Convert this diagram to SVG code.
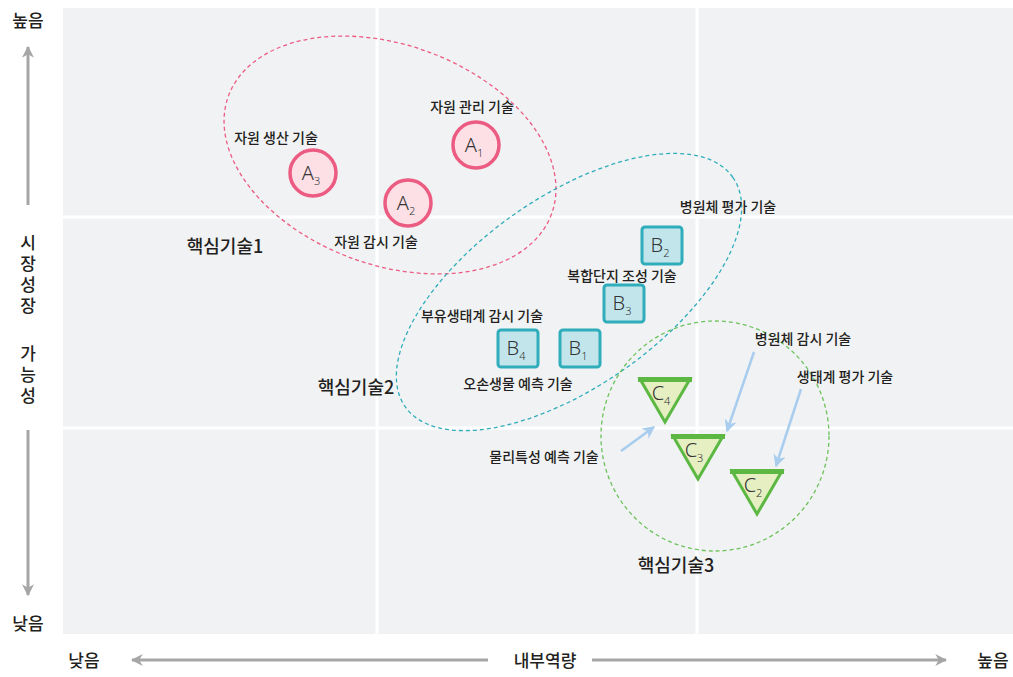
<svg xmlns="http://www.w3.org/2000/svg" width="1013" height="677" viewBox="0 0 1013 677">
<defs>
<style>
.lbl{font-family:"Noto Sans CJK KR","Noto Sans",sans-serif;font-size:14px;font-weight:500;fill:#231f20;text-anchor:middle}
.core{font-family:"Noto Sans CJK KR","Noto Sans",sans-serif;font-size:18px;font-weight:500;fill:#231f20;text-anchor:middle}
.ax{font-family:"Noto Sans CJK KR","Noto Sans",sans-serif;font-size:17px;font-weight:500;fill:#231f20;text-anchor:middle}
.vt{font-family:"Noto Sans CJK KR","Noto Sans",sans-serif;font-size:17px;font-weight:500;fill:#231f20;letter-spacing:4px}
.nm{font-family:"Noto Sans","Open Sans",sans-serif;font-size:20px;font-weight:300;fill:#333;text-anchor:middle}
.sub{font-size:11px}
.grid{stroke:#ffffff;stroke-width:3}
.axl{stroke:#a6a6a6;stroke-width:3;fill:none}
.circ{fill:#fde0e6;stroke:#ec5b82;stroke-width:3.5}
.sq{fill:#c2e5ec;stroke:#2fadbb;stroke-width:3}
.tri{fill:#e5efc2;stroke:#5cb843;stroke-width:3;stroke-linejoin:miter}
.bar{stroke:#5cb843;stroke-width:5}
.pt{stroke:#a8cdee;stroke-width:2.5;fill:none}
</style>
<marker id="ga" viewBox="0 0 10 10" refX="9" refY="5" markerWidth="4" markerHeight="4" orient="auto-start-reverse" markerUnits="strokeWidth">
<path d="M0,0 L10,5 L0,10 L3,5 z" fill="#a6a6a6"/>
</marker>
<marker id="ba" viewBox="0 0 10 10" refX="9" refY="5" markerWidth="5" markerHeight="5" orient="auto" markerUnits="strokeWidth">
<path d="M0,0 L10,5 L0,10 L3,5 z" fill="#a8cdee"/>
</marker>
</defs>
<rect width="1013" height="677" fill="#ffffff"/>
<rect x="63" y="8" width="950" height="626" fill="#f1f2f4"/>
<g id="grid">
<line class="grid" x1="377" y1="8" x2="377" y2="634"/>
<line class="grid" x1="697" y1="8" x2="697" y2="634"/>
<line class="grid" x1="63" y1="217" x2="1013" y2="217"/>
<line class="grid" x1="63" y1="428" x2="1013" y2="428"/>
</g>
<g id="axes">
<line class="axl" x1="28" y1="205" x2="28" y2="47" marker-end="url(#ga)"/>
<line class="axl" x1="28" y1="430" x2="28" y2="595" marker-end="url(#ga)"/>
<line class="axl" x1="488" y1="660" x2="132" y2="660" marker-end="url(#ga)"/>
<line class="axl" x1="592" y1="660" x2="946" y2="660" marker-end="url(#ga)"/>
<text class="ax" x="28" y="27">높음</text>
<text class="ax" x="28" y="630">낮음</text>
<text class="ax" x="84" y="667">낮음</text>
<text class="ax" x="545" y="667">내부역량</text>
<text class="ax" x="993" y="667">높음</text>
<text class="vt" x="28" y="234" writing-mode="tb">시장성장</text>
<text class="vt" x="28" y="345" writing-mode="tb">가능성</text>
</g>
<g id="groups" fill="none" stroke-width="1.3" stroke-dasharray="4 3">
<ellipse cx="390" cy="155" rx="172" ry="110" transform="rotate(20 390 155)" stroke="#ec5b82"/>
<ellipse cx="569" cy="292" rx="200" ry="95" transform="rotate(-35 569 292)" stroke="#2fadbb"/>
<ellipse cx="715" cy="436" rx="114" ry="115" stroke="#6cc25a"/>
</g>
<g id="connectors">
<line class="pt" x1="621" y1="451" x2="654" y2="427" marker-end="url(#ba)"/>
<line class="pt" x1="754" y1="352" x2="727" y2="431" marker-end="url(#ba)"/>
<line class="pt" x1="801" y1="389" x2="776" y2="466" marker-end="url(#ba)"/>
</g>
<g id="A1"><circle class="circ" cx="476" cy="145" r="23"/><text class="nm" x="474" y="152">A<tspan class="sub" dy="5">1</tspan></text></g>
<g id="A2"><circle class="circ" cx="408" cy="203" r="23"/><text class="nm" x="406" y="210">A<tspan class="sub" dy="5">2</tspan></text></g>
<g id="A3"><circle class="circ" cx="313" cy="173" r="23"/><text class="nm" x="311" y="180">A<tspan class="sub" dy="5">3</tspan></text></g>
<g id="B2"><rect class="sq" x="642" y="227" width="40" height="37" rx="3"/><text class="nm" x="660" y="252">B<tspan class="sub" dy="5">2</tspan></text></g>
<g id="B3"><rect class="sq" x="604" y="285" width="40" height="37" rx="3"/><text class="nm" x="622" y="310">B<tspan class="sub" dy="5">3</tspan></text></g>
<g id="B4"><rect class="sq" x="498" y="330" width="40" height="37" rx="3"/><text class="nm" x="516" y="355">B<tspan class="sub" dy="5">4</tspan></text></g>
<g id="B1"><rect class="sq" x="560" y="330" width="40" height="37" rx="3"/><text class="nm" x="578" y="355">B<tspan class="sub" dy="5">1</tspan></text></g>
<g id="C4"><path class="tri" d="M640,379 L690,379 L665,422 Z"/><line class="bar" x1="638" y1="379.5" x2="692" y2="379.5"/><text class="nm" x="661" y="400">C<tspan class="sub" dy="5">4</tspan></text></g>
<g id="C3"><path class="tri" d="M673,436 L723,436 L698,479 Z"/><line class="bar" x1="671" y1="436.5" x2="725" y2="436.5"/><text class="nm" x="694" y="457">C<tspan class="sub" dy="5">3</tspan></text></g>
<g id="C2"><path class="tri" d="M732,471 L782,471 L757,514 Z"/><line class="bar" x1="730" y1="471.5" x2="784" y2="471.5"/><text class="nm" x="753" y="492">C<tspan class="sub" dy="5">2</tspan></text></g>
<g id="labels">
<text class="lbl" x="472" y="112">자원 관리 기술</text>
<text class="lbl" x="276" y="143">자원 생산 기술</text>
<text class="lbl" x="376" y="247">자원 감시 기술</text>
<text class="lbl" x="728" y="212">병원체 평가 기술</text>
<text class="lbl" x="622" y="281">복합단지 조성 기술</text>
<text class="lbl" x="482" y="321">부유생태계 감시 기술</text>
<text class="lbl" x="518" y="389">오손생물 예측 기술</text>
<text class="lbl" x="803" y="344">병원체 감시 기술</text>
<text class="lbl" x="845" y="382">생태계 평가 기술</text>
<text class="lbl" x="544" y="462">물리특성 예측 기술</text>
<text class="core" x="225" y="253">핵심기술1</text>
<text class="core" x="356" y="394">핵심기술2</text>
<text class="core" x="676" y="572">핵심기술3</text>
</g>
</svg>
